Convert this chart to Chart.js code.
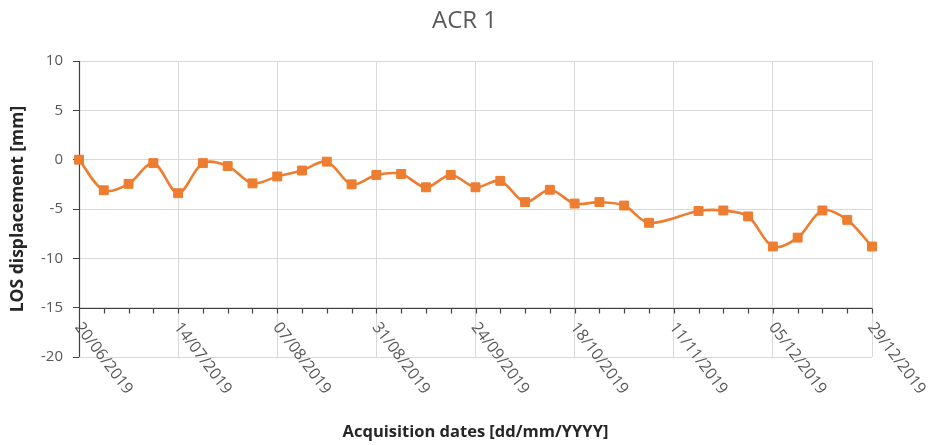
<!DOCTYPE html>
<html>
<head>
<meta charset="utf-8">
<script src="https://cdn.jsdelivr.net/npm/chart.js@4/dist/chart.umd.min.js"></script>
<style>html,body{margin:0;padding:0;background:#fff;}canvas{display:block;}</style>
</head>
<body>
<canvas id="c" width="929" height="445"></canvas>
<script>
// ---- data ----
const acquisitionDates = [
  '20/06/2019','26/06/2019','02/07/2019','08/07/2019','14/07/2019','20/07/2019','26/07/2019','01/08/2019',
  '07/08/2019','13/08/2019','19/08/2019','25/08/2019','31/08/2019','06/09/2019','12/09/2019','18/09/2019',
  '24/09/2019','30/09/2019','06/10/2019','12/10/2019','18/10/2019','24/10/2019','30/10/2019','05/11/2019',
  '17/11/2019','23/11/2019','29/11/2019','05/12/2019','11/12/2019','17/12/2019','23/12/2019','29/12/2019'
];
const losDisplacement = [
  0, -3.1, -2.45, -0.35, -3.4, -0.35, -0.65, -2.4,
  -1.7, -1.1, -0.2, -2.5, -1.55, -1.45, -2.8, -1.55,
  -2.8, -2.15, -4.3, -3.05, -4.45, -4.3, -4.65, -6.4,
  -5.2, -5.15, -5.75, -8.8, -7.9, -5.15, -6.1, -8.8
];
const dateTickLabels = ['20/06/2019','14/07/2019','07/08/2019','31/08/2019','24/09/2019','18/10/2019','11/11/2019','05/12/2019','29/12/2019'];
const yMin = -20, yMax = 10, yStep = 5;
const xAxisCrossing = -15;
const minorTickDays = 6;

function dayOf(s){ const p = s.split('/').map(Number); return Date.UTC(p[2], p[1]-1, p[0]) / 86400000; }

const ORANGE = '#ED7D31';
const GRID = '#d9d9d9';
const AXIS = '#404040';
const TEXT = '#595959';

Chart.defaults.font.family = '"Open Sans", "Liberation Sans", sans-serif';
Chart.defaults.color = TEXT;

const excelAxes = {
  id: 'excelAxes',
  beforeDatasetsDraw(chart) {
    const {ctx, chartArea: a, scales: {x, y}} = chart;
    const yAx = Math.round(y.getPixelForValue(xAxisCrossing)) + 0.5;
    const xAx = Math.round(a.left) + 0.5;
    ctx.save();
    ctx.strokeStyle = AXIS;
    ctx.lineWidth = 1.2;
    ctx.beginPath();
    ctx.moveTo(a.left, yAx); ctx.lineTo(a.right, yAx);
    ctx.moveTo(xAx, a.top); ctx.lineTo(xAx, a.bottom);
    for (let v = x.min; v <= x.max + 0.001; v += minorTickDays) {
      const px = Math.round(x.getPixelForValue(v)) + 0.5;
      ctx.moveTo(px, yAx); ctx.lineTo(px, yAx + 5);
    }
    ctx.stroke();
    ctx.fillStyle = TEXT;
    ctx.font = '16px "Open Sans", "Liberation Sans", sans-serif';
    ctx.textAlign = 'left';
    ctx.textBaseline = 'middle';
    x.ticks.forEach((t, i) => {
      const px = x.getPixelForValue(t.value);
      ctx.save();
      ctx.translate(px - 1, yAx + 16);
      ctx.rotate(53 * Math.PI / 180);
      ctx.fillText(dateTickLabels[i], 0, 0);
      ctx.restore();
    });
    ctx.restore();
  }
};

new Chart(document.getElementById('c'), {
  type: 'line',
  data: {
    datasets: [{
      label: 'ACR 1',
      data: acquisitionDates.map((d, i) => ({x: dayOf(d), y: losDisplacement[i]})),
      borderColor: ORANGE,
      backgroundColor: ORANGE,
      borderWidth: 2.6,
      tension: 0.33,
      pointStyle: 'rect',
      pointRadius: 6.3,
      pointBorderWidth: 1,
      pointBorderColor: ORANGE,
      pointBackgroundColor: ORANGE,
      clip: false
    }]
  },
  options: {
    responsive: false,
    animation: false,
    devicePixelRatio: 1,
    layout: {padding: {left: 0, right: 0, top: 0, bottom: 0}},
    plugins: {
      legend: {display: false},
      tooltip: {enabled: false},
      title: {
        display: true,
        text: 'ACR 1',
        color: TEXT,
        font: {size: 24, weight: 'normal'},
        padding: {top: 7, bottom: 25.2}
      }
    },
    scales: {
      x: {
        type: 'linear',
        min: dayOf(dateTickLabels[0]),
        max: dayOf(dateTickLabels[dateTickLabels.length - 1]),
        afterBuildTicks(scale) { scale.ticks = dateTickLabels.map(d => ({value: dayOf(d)})); },
        afterFit(scale) { scale.height = 88; },
        ticks: {display: false},
        grid: {color: GRID, lineWidth: 1, drawTicks: false},
        border: {display: false},
        title: {
          display: true,
          text: 'Acquisition dates [dd/mm/YYYY]',
          color: '#262626',
          font: {size: 16.5, weight: 'bold'},
          padding: {top: 0, bottom: 3}
        }
      },
      y: {
        min: yMin, max: yMax,
        afterFit(scale) { scale.width = 79; },
        ticks: {stepSize: yStep, color: TEXT, font: {size: 15}, padding: 10},
        grid: {color: GRID, lineWidth: 1, tickColor: AXIS, tickLength: 6},
        border: {display: false},
        title: {
          display: true,
          text: 'LOS displacement [mm]',
          color: '#262626',
          font: {size: 17.5, weight: 'bold'},
          padding: {top: 8, bottom: 0}
        }
      },
      rightSpace: {
        type: 'linear',
        position: 'right',
        display: true,
        afterFit(scale) { scale.width = 57; },
        ticks: {display: false},
        grid: {display: false},
        border: {display: false}
      }
    }
  },
  plugins: [excelAxes]
});
</script>
</body>
</html>
